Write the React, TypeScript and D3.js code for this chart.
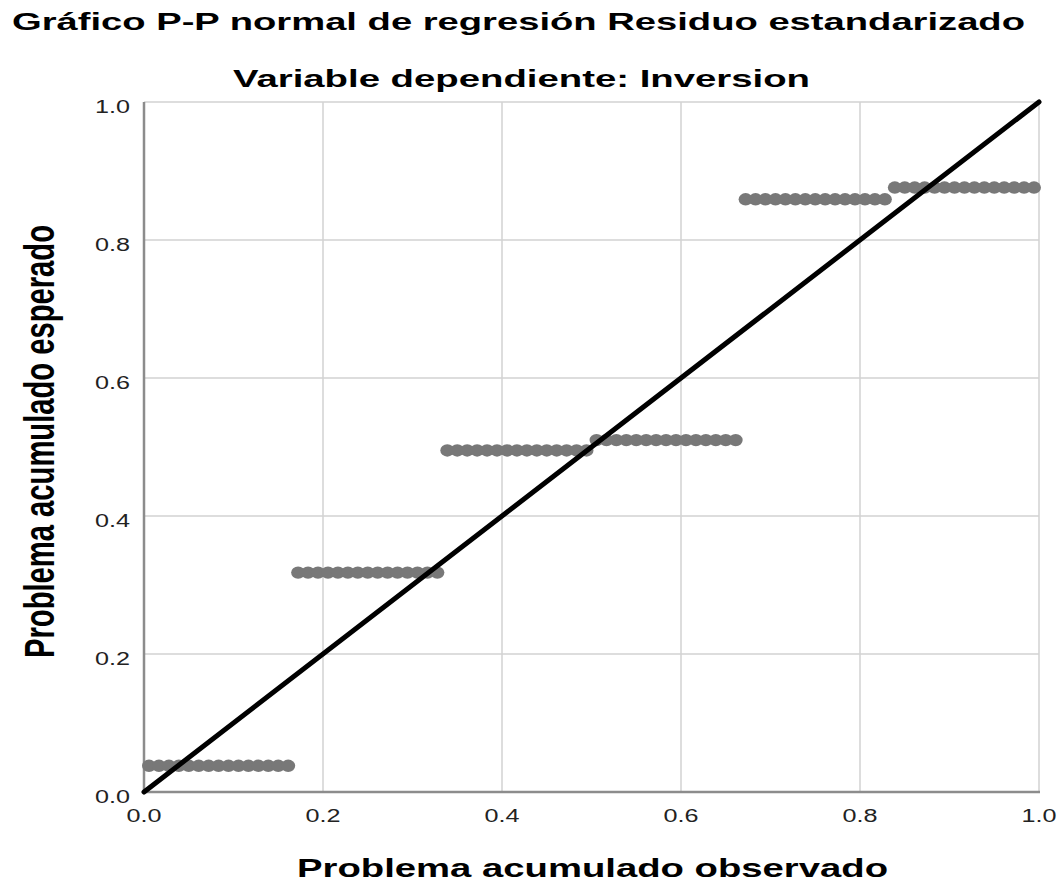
import React from "react";
import * as d3 from "d3";

// Observed cumulative probability (x) per group
const observedG1 = [0.0056, 0.0167, 0.0278, 0.0389, 0.05, 0.0611, 0.0722, 0.0833, 0.0944, 0.1056, 0.1167, 0.1278, 0.1389, 0.15, 0.1611];
const observedG2 = [0.1722, 0.1833, 0.1944, 0.2056, 0.2167, 0.2278, 0.2389, 0.25, 0.2611, 0.2722, 0.2833, 0.2944, 0.3056, 0.3167, 0.3278];
const observedG3 = [0.3389, 0.35, 0.3611, 0.3722, 0.3833, 0.3944, 0.4056, 0.4167, 0.4278, 0.4389, 0.45, 0.4611, 0.4722, 0.4833, 0.4944];
const observedG4 = [0.5056, 0.5167, 0.5278, 0.5389, 0.55, 0.5611, 0.5722, 0.5833, 0.5944, 0.6056, 0.6167, 0.6278, 0.6389, 0.65, 0.6611];
const observedG5 = [0.6722, 0.6833, 0.6944, 0.7056, 0.7167, 0.7278, 0.7389, 0.75, 0.7611, 0.7722, 0.7833, 0.7944, 0.8056, 0.8167, 0.8278];
const observedG6 = [0.8389, 0.85, 0.8611, 0.8722, 0.8833, 0.8944, 0.9056, 0.9167, 0.9278, 0.9389, 0.95, 0.9611, 0.9722, 0.9833, 0.9944];

// Expected cumulative probability (y) of each group
const expectedValues = [0.038, 0.318, 0.495, 0.510, 0.859, 0.876];

const ticks = [0, 0.2, 0.4, 0.6, 0.8, 1.0];
const tickLabels = ["0.0", "0.2", "0.4", "0.6", "0.8", "1.0"];

const title = "Gráfico P-P normal de regresión Residuo estandarizado";
const subtitle = "Variable dependiente: Inversion";
const xTitle = "Problema acumulado observado";
const yTitle = "Problema acumulado esperado";

const groups = [observedG1, observedG2, observedG3, observedG4, observedG5, observedG6];
const points = groups.flatMap((g, gi) => g.map((x) => ({ x, y: expectedValues[gi] })));

const W = 1063;
const H = 886;
const left = 144, right = 1039, top = 102, bottom = 792;

export default function App() {
  const x = d3.scaleLinear().domain([0, 1]).range([left, right]);
  const y = d3.scaleLinear().domain([0, 1]).range([bottom, top]);
  const font = "'Liberation Sans', Arial, sans-serif";
  const line = d3.line<[number, number]>().x((d) => x(d[0])).y((d) => y(d[1]));

  return (
    <svg width={W} height={H} style={{ position: "absolute", left: 0, top: 0, background: "#fff" }} fontFamily={font}>
      <rect x={0} y={0} width={W} height={H} fill="#fff" />
      <text x={12} y={30} fontSize={24} fontWeight="bold" textLength={1013} lengthAdjust="spacingAndGlyphs" fill="#000">{title}</text>
      <text x={233} y={87} fontSize={24} fontWeight="bold" textLength={577} lengthAdjust="spacingAndGlyphs" fill="#000">{subtitle}</text>

      {/* grid */}
      {ticks.slice(1).map((t) => (
        <line key={"gx" + t} x1={x(t)} x2={x(t)} y1={top} y2={bottom} stroke="#d2d2d2" strokeWidth={1.5} />
      ))}
      {ticks.slice(1).map((t) => (
        <line key={"gy" + t} x1={left} x2={right} y1={y(t)} y2={y(t)} stroke="#d2d2d2" strokeWidth={1.5} />
      ))}
      {/* axes */}
      <line x1={left} x2={left} y1={top} y2={bottom + 1} stroke="#8c8c8c" strokeWidth={2.5} />
      <line x1={left} x2={right + 1} y1={bottom} y2={bottom} stroke="#8c8c8c" strokeWidth={2.5} />

      {/* tick labels */}
      {ticks.map((t, i) => (
        <text key={"xt" + t} x={x(t)} y={822} fontSize={18} textAnchor="middle" textLength={35} lengthAdjust="spacingAndGlyphs" fill="#222">{tickLabels[i]}</text>
      ))}
      {ticks.map((t, i) => (
        <text key={"yt" + t} x={130} y={y(t) + 10.5} fontSize={18} textAnchor="end" textLength={35} lengthAdjust="spacingAndGlyphs" fill="#222">{tickLabels[i]}</text>
      ))}

      {/* points */}
      {points.map((p, i) => (
        <ellipse key={i} cx={x(p.x)} cy={y(p.y)} rx={7} ry={6.2} fill="#787878" />
      ))}

      {/* reference line */}
      <path d={line([[0, 0], [1, 1]]) || ""} stroke="#000" strokeWidth={5} fill="none" strokeLinecap="round" />

      {/* axis titles */}
      <text x={297} y={877} fontSize={26} fontWeight="bold" textLength={591} lengthAdjust="spacingAndGlyphs" fill="#000">{xTitle}</text>
      <text transform={`translate(54, 441.5) scale(1.6, 1) rotate(-90)`} fontSize={26} fontWeight="bold" textAnchor="middle" textLength={433} lengthAdjust="spacingAndGlyphs" fill="#000">{yTitle}</text>
    </svg>
  );
}
